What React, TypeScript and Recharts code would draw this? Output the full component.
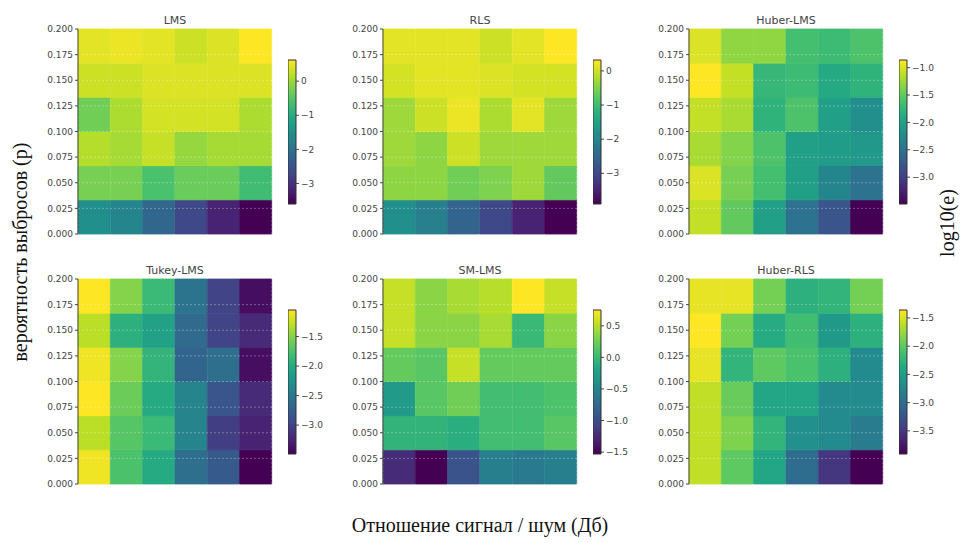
import React from 'react';
import { Bar, BarChart, Cell, ReferenceLine, XAxis, YAxis } from 'recharts';

// x: SNR (dB), y: outlier probability
const snrTicks = [-5, 0, 5, 10, 15, 20];
const pTicks = [0, 0.025, 0.05, 0.075, 0.1, 0.125, 0.15, 0.175, 0.2];
const snrBins = ['b0', 'b1', 'b2', 'b3', 'b4', 'b5'];
const pRows = [0, 1, 2, 3, 4, 5]; // bottom -> top

// log10(e), rows listed top (p=0.2) to bottom (p=0), columns SNR -5..20
const lmsValues = [
    [0.45, 0.5, 0.45, 0.3, 0.4, 0.62],
    [0.3, 0.3, 0.4, 0.4, 0.4, 0.4],
    [-0.3, 0.1, 0.35, 0.35, 0.35, 0.1],
    [0.15, 0.05, 0.25, -0.05, 0.05, 0.05],
    [-0.25, -0.25, -0.6, -0.35, -0.35, -0.7],
    [-1.5, -1.7, -2.2, -2.7, -3.2, -3.6],
];
const rlsValues = [
    [0.15, 0.15, 0.15, 0.0, 0.15, 0.32],
    [0.05, 0.15, 0.15, 0.1, 0.05, 0.05],
    [-0.3, 0.0, 0.2, -0.2, 0.15, -0.3],
    [-0.3, -0.4, 0.0, -0.3, -0.3, -0.3],
    [-0.4, -0.4, -0.6, -0.5, -0.3, -0.7],
    [-1.8, -2.1, -2.55, -3.0, -3.5, -3.9],
];
const huberLmsValues = [
    [-1.0, -1.3, -1.3, -1.65, -1.7, -1.6],
    [-0.86, -1.1, -1.75, -1.7, -1.9, -1.8],
    [-1.1, -1.2, -1.8, -1.6, -2.0, -2.2],
    [-1.2, -1.35, -1.6, -2.0, -2.05, -2.1],
    [-1.0, -1.4, -1.65, -2.0, -2.3, -2.5],
    [-1.1, -1.5, -2.0, -2.5, -2.8, -3.49],
];
const tukeyLmsValues = [
    [-1.05, -1.5, -1.85, -2.55, -3.0, -3.4],
    [-1.3, -1.95, -2.1, -2.65, -3.0, -3.2],
    [-1.1, -1.5, -1.9, -2.7, -2.6, -3.4],
    [-1.05, -1.6, -2.0, -2.4, -2.85, -3.2],
    [-1.3, -1.7, -1.85, -2.4, -3.05, -3.25],
    [-1.1, -1.75, -2.0, -2.6, -2.8, -3.49],
];
const smLmsValues = [
    [0.55, 0.35, 0.45, 0.5, 0.75, 0.55],
    [0.55, 0.35, 0.35, 0.45, 0.0, 0.35],
    [0.2, 0.15, 0.55, 0.2, 0.2, 0.2],
    [-0.3, 0.15, 0.25, 0.05, 0.05, 0.1],
    [-0.05, -0.05, -0.1, 0.05, 0.05, 0.15],
    [-1.25, -1.53, -0.95, -0.55, -0.6, -0.55],
];
const huberRlsValues = [
    [-1.45, -1.45, -1.9, -2.3, -2.25, -1.9],
    [-1.36, -1.9, -2.35, -2.15, -2.55, -2.3],
    [-1.45, -2.25, -2.0, -2.1, -2.3, -2.7],
    [-1.6, -1.95, -2.4, -2.4, -2.7, -2.7],
    [-1.6, -1.85, -2.25, -2.65, -2.7, -2.85],
    [-1.6, -2.0, -2.4, -3.0, -3.5, -3.91],
];

// colorbar ranges and ticks
const lmsRange = [-3.6, 0.62];
const rlsRange = [-3.9, 0.32];
const huberLmsRange = [-3.49, -0.86];
const tukeyLmsRange = [-3.49, -1.05];
const smLmsRange = [-1.53, 0.75];
const huberRlsRange = [-3.91, -1.36];
const lmsBarTicks = [0, -1, -2, -3];
const rlsBarTicks = [0, -1, -2, -3];
const huberLmsBarTicks = [-1.0, -1.5, -2.0, -2.5, -3.0];
const tukeyLmsBarTicks = [-1.5, -2.0, -2.5, -3.0];
const smLmsBarTicks = [0.5, 0.0, -0.5, -1.0, -1.5];
const huberRlsBarTicks = [-1.5, -2.0, -2.5, -3.0, -3.5];

const VIRIDIS = ['#440154', '#482475', '#414487', '#355f8d', '#2a788e', '#21918c', '#22a884', '#44bf70', '#7ad151', '#bddf26', '#fde725'];

const hex = (h: string) => [1, 3, 5].map((i) => parseInt(h.slice(i, i + 2), 16));

function viridis(t: number) {
    const c = Math.max(0, Math.min(1, t)) * 10;
    const i = Math.min(9, Math.floor(c));
    const f = c - i;
    const a = hex(VIRIDIS[i]);
    const b = hex(VIRIDIS[i + 1]);
    const m = a.map((v, k) => Math.round(v + (b[k] - v) * f));
    return `rgb(${m[0]},${m[1]},${m[2]})`;
}

const tickStyle = { fill: '#444', fontSize: 9, fontFamily: 'DejaVu Sans' };
const fmt = (v: number, d: number) => v.toFixed(d).replace('-', '\u2212');

type Panel = {
    title: string;
    left: number;
    top: number;
    values: number[][];
    range: number[];
    barTicks: number[];
    digits: number;
};

const panels: Panel[] = [
    { title: 'LMS', left: 78, top: 29, values: lmsValues, range: lmsRange, barTicks: lmsBarTicks, digits: 0 },
    { title: 'RLS', left: 383, top: 29, values: rlsValues, range: rlsRange, barTicks: rlsBarTicks, digits: 0 },
    { title: 'Huber-LMS', left: 689, top: 29, values: huberLmsValues, range: huberLmsRange, barTicks: huberLmsBarTicks, digits: 1 },
    { title: 'Tukey-LMS', left: 78, top: 279, values: tukeyLmsValues, range: tukeyLmsRange, barTicks: tukeyLmsBarTicks, digits: 1 },
    { title: 'SM-LMS', left: 383, top: 279, values: smLmsValues, range: smLmsRange, barTicks: smLmsBarTicks, digits: 1 },
    { title: 'Huber-RLS', left: 689, top: 279, values: huberRlsValues, range: huberRlsRange, barTicks: huberRlsBarTicks, digits: 1 },
];

const PLOT_W = 194;
const PLOT_H = 205;
const ROW_H = pTicks[pTicks.length - 1] / pRows.length;

const Heatmap: React.FC<{ p: Panel }> = ({ p }) => {
    const [lo, hi] = p.range;
    const data = snrBins.map((bin) => {
        const row: { [key: string]: number | string } = { bin };
        pRows.forEach((k) => (row['r' + k] = ROW_H));
        return row;
    });
    return (
        <div style={{ position: 'absolute', left: p.left - 40, top: p.top - 25 }}>
            <BarChart
                width={40 + PLOT_W + 10}
                height={25 + PLOT_H + 20}
                data={data}
                margin={{ top: 25, right: 10, bottom: 0, left: 0 }}
                barCategoryGap={0}
                barGap={0}
            >
                <text x={40 + PLOT_W / 2} y={20} textAnchor="middle" fontFamily="DejaVu Sans" fontSize={11} fill="#444">
                    {p.title}
                </text>
                <XAxis xAxisId="cells" dataKey="bin" hide />
                <XAxis
                    xAxisId="snr" type="number" domain={[-5, 20]} ticks={snrTicks} height={20}
                    tick={tickStyle} tickSize={3} tickLine={{ stroke: '#444' }} axisLine={{ stroke: '#444' }}
                    tickFormatter={(v: number) => fmt(v, 0)} interval={0}
                />
                <YAxis
                    yAxisId="p" type="number" domain={[0, 0.2]} ticks={pTicks} width={40}
                    tick={tickStyle} tickSize={3} tickLine={{ stroke: '#444' }} axisLine={{ stroke: '#444' }}
                    tickFormatter={(v: number) => v.toFixed(3)} interval={0}
                />
                {pRows.map((k) => (
                    <Bar key={k} dataKey={'r' + k} stackId="s" xAxisId="cells" yAxisId="p" isAnimationActive={false}>
                        {snrBins.map((b, c) => {
                            const col = viridis((p.values[pRows.length - 1 - k][c] - lo) / (hi - lo));
                            return <Cell key={b} fill={col} stroke={col} strokeWidth={0.8} />;
                        })}
                    </Bar>
                ))}
                {snrTicks.slice(1, -1).map((x) => (
                    <ReferenceLine key={'x' + x} x={x} xAxisId="snr" yAxisId="p" stroke="#fff" strokeOpacity={0.3} strokeDasharray="2 2" />
                ))}
                {pTicks.slice(1, -1).map((y) => (
                    <ReferenceLine key={'y' + y} y={y} xAxisId="snr" yAxisId="p" stroke="#fff" strokeOpacity={0.3} strokeDasharray="2 2" />
                ))}
            </BarChart>
        </div>
    );
};

const Colorbar: React.FC<{ p: Panel; left: number; top: number }> = ({ p, left, top }) => {
    const data = [{ name: 'cb', span: p.range }];
    return (
        <div style={{ position: 'absolute', left, top: top - 5 }}>
            <BarChart width={8 + 36} height={144 + 10} data={data} margin={{ top: 5, right: 0, bottom: 5, left: 0 }} barCategoryGap={0}>
                <XAxis dataKey="name" hide />
                <YAxis
                    orientation="right" type="number" domain={p.range} ticks={p.barTicks} width={36}
                    tick={tickStyle} tickSize={3} tickLine={{ stroke: '#444' }} axisLine={false}
                    tickFormatter={(v: number) => fmt(v, p.digits)} interval={0}
                />
                <Bar dataKey="span" fill="url(#viridisGrad)" stroke="#333" strokeWidth={1} isAnimationActive={false} />
            </BarChart>
        </div>
    );
};

const serifFont = 'Liberation Serif';

export default function App() {
    return (
        <div style={{ position: 'absolute', left: 0, top: 0, width: 961, height: 543, background: '#fff' }}>
            <svg width={961} height={543} style={{ position: 'absolute', left: 0, top: 0 }}>
                <defs>
                    <linearGradient id="viridisGrad" x1="0" y1="1" x2="0" y2="0">
                        {VIRIDIS.map((c, i) => (
                            <stop key={c} offset={i / (VIRIDIS.length - 1)} stopColor={c} />
                        ))}
                    </linearGradient>
                </defs>
                <text x={20} y={252} transform="rotate(-90 20 252)" textAnchor="middle" dominantBaseline="central" fontFamily={serifFont} fontSize={20} fill="#111">
                    вероятность выбросов (р)
                </text>
                <text x={947} y={223} transform="rotate(-90 947 223)" textAnchor="middle" dominantBaseline="central" fontFamily={serifFont} fontSize={20} fill="#111">
                    log10(e)
                </text>
                <text x={480} y={525} textAnchor="middle" dominantBaseline="central" fontFamily={serifFont} fontSize={20} fill="#111">
                    Отношение сигнал / шум (Дб)
                </text>
            </svg>
            {panels.map((p) => (
                <Heatmap key={p.title} p={p} />
            ))}
            {panels.map((p) => (
                <Colorbar key={p.title} p={p} left={p.left + 210} top={p.top + 31} />
            ))}
        </div>
    );
}
